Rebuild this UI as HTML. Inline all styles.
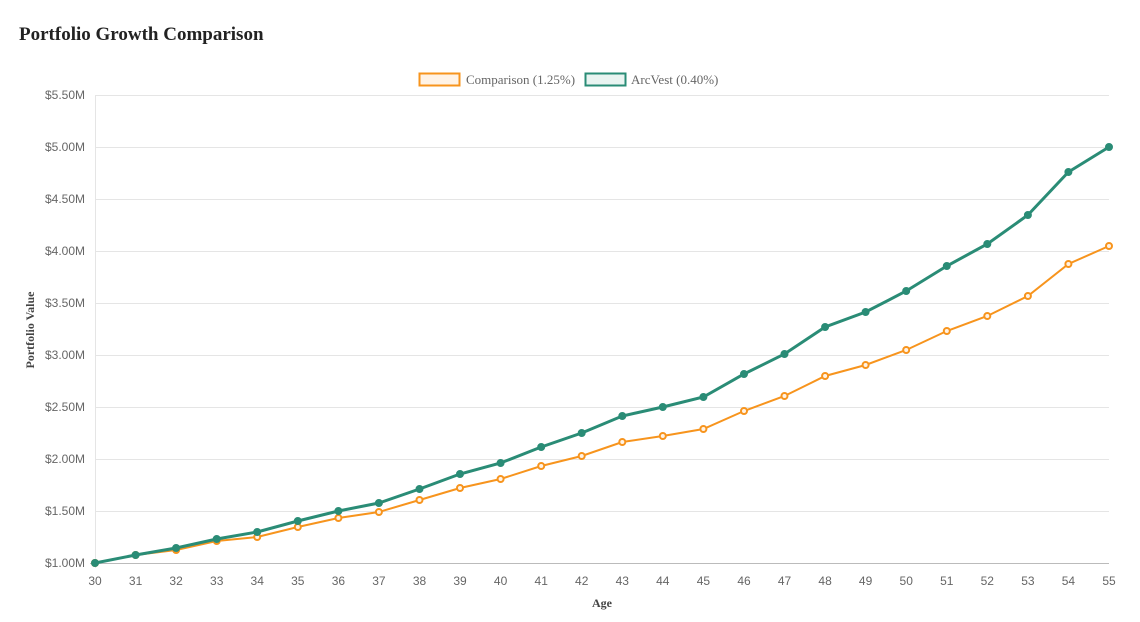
<!DOCTYPE html>
<html><head><meta charset="utf-8"><style>
body{margin:0;background:#fff;}
svg{display:block;}
.t{font-family:"Liberation Sans",sans-serif;font-size:12px;fill:#666;}
.s{font-family:"Liberation Serif",serif;}
</style></head><body>
<svg width="1140" height="622" viewBox="0 0 1140 622">
<text x="19" y="40" class="s" font-size="19" font-weight="bold" fill="#222">Portfolio Growth Comparison</text>
<rect x="419.5" y="73.5" width="40" height="12" fill="#fff3e6" stroke="#f7941d" stroke-width="2"/>
<text x="466" y="84" class="s" font-size="13" fill="#666">Comparison (1.25%)</text>
<rect x="585.5" y="73.5" width="40" height="12" fill="#e9f4f1" stroke="#2a8c76" stroke-width="2"/>
<text x="631" y="84" class="s" font-size="13" fill="#666">ArcVest (0.40%)</text>
<g stroke="#e5e5e5" stroke-width="1">
<line x1="95" y1="95.5" x2="1109" y2="95.5"/><line x1="95" y1="147.5" x2="1109" y2="147.5"/><line x1="95" y1="199.5" x2="1109" y2="199.5"/><line x1="95" y1="251.5" x2="1109" y2="251.5"/><line x1="95" y1="303.5" x2="1109" y2="303.5"/><line x1="95" y1="355.5" x2="1109" y2="355.5"/><line x1="95" y1="407.5" x2="1109" y2="407.5"/><line x1="95" y1="459.5" x2="1109" y2="459.5"/><line x1="95" y1="511.5" x2="1109" y2="511.5"/>
<line x1="95.5" y1="95" x2="95.5" y2="568"/>
</g>
<line x1="90" y1="563.5" x2="1109" y2="563.5" stroke="#bbb"/>
<g class="t" text-anchor="end">
<text x="85" y="99">$5.50M</text><text x="85" y="151">$5.00M</text><text x="85" y="203">$4.50M</text><text x="85" y="255">$4.00M</text><text x="85" y="307">$3.50M</text><text x="85" y="359">$3.00M</text><text x="85" y="411">$2.50M</text><text x="85" y="463">$2.00M</text><text x="85" y="515">$1.50M</text><text x="85" y="567">$1.00M</text>
</g>
<g class="t" text-anchor="middle">
<text x="95" y="585">30</text><text x="135.6" y="585">31</text><text x="176.1" y="585">32</text><text x="216.7" y="585">33</text><text x="257.2" y="585">34</text><text x="297.8" y="585">35</text><text x="338.4" y="585">36</text><text x="378.9" y="585">37</text><text x="419.5" y="585">38</text><text x="460" y="585">39</text><text x="500.6" y="585">40</text><text x="541.2" y="585">41</text><text x="581.7" y="585">42</text><text x="622.3" y="585">43</text><text x="662.8" y="585">44</text><text x="703.4" y="585">45</text><text x="744" y="585">46</text><text x="784.5" y="585">47</text><text x="825.1" y="585">48</text><text x="865.6" y="585">49</text><text x="906.2" y="585">50</text><text x="946.8" y="585">51</text><text x="987.3" y="585">52</text><text x="1027.9" y="585">53</text><text x="1068.4" y="585">54</text><text x="1109" y="585">55</text>
</g>
<text x="602" y="607" class="s" font-size="12" font-weight="bold" fill="#444" text-anchor="middle">Age</text>
<text transform="translate(34,330) rotate(-90)" class="s" font-size="12" font-weight="bold" fill="#444" text-anchor="middle">Portfolio Value</text>
<polyline fill="none" stroke="#f7941d" stroke-width="2" points="95,563 135.6,555 176.1,550 216.7,541 257.2,537 297.8,527 338.4,518 378.9,512 419.5,500 460,488 500.6,479 541.2,466 581.7,456 622.3,442 662.8,436 703.4,429 744,411 784.5,396 825.1,376 865.6,365 906.2,350 946.8,331 987.3,316 1027.9,296 1068.4,264 1109,246"/>
<g fill="#fff3e6" stroke="#f7941d" stroke-width="2">
<circle cx="95" cy="563" r="3"/><circle cx="135.6" cy="555" r="3"/><circle cx="176.1" cy="550" r="3"/><circle cx="216.7" cy="541" r="3"/><circle cx="257.2" cy="537" r="3"/><circle cx="297.8" cy="527" r="3"/><circle cx="338.4" cy="518" r="3"/><circle cx="378.9" cy="512" r="3"/><circle cx="419.5" cy="500" r="3"/><circle cx="460" cy="488" r="3"/><circle cx="500.6" cy="479" r="3"/><circle cx="541.2" cy="466" r="3"/><circle cx="581.7" cy="456" r="3"/><circle cx="622.3" cy="442" r="3"/><circle cx="662.8" cy="436" r="3"/><circle cx="703.4" cy="429" r="3"/><circle cx="744" cy="411" r="3"/><circle cx="784.5" cy="396" r="3"/><circle cx="825.1" cy="376" r="3"/><circle cx="865.6" cy="365" r="3"/><circle cx="906.2" cy="350" r="3"/><circle cx="946.8" cy="331" r="3"/><circle cx="987.3" cy="316" r="3"/><circle cx="1027.9" cy="296" r="3"/><circle cx="1068.4" cy="264" r="3"/><circle cx="1109" cy="246" r="3"/>
</g>
<polyline fill="none" stroke="#2a8c76" stroke-width="3" points="95,563 135.6,555 176.1,548 216.7,539 257.2,532 297.8,521 338.4,511 378.9,503 419.5,489 460,474 500.6,463 541.2,447 581.7,433 622.3,416 662.8,407 703.4,397 744,374 784.5,354 825.1,327 865.6,312 906.2,291 946.8,266 987.3,244 1027.9,215 1068.4,172 1109,147"/>
<g fill="#2a8c76" stroke="#2a8c76" stroke-width="1">
<circle cx="95" cy="563" r="3.5"/><circle cx="135.6" cy="555" r="3.5"/><circle cx="176.1" cy="548" r="3.5"/><circle cx="216.7" cy="539" r="3.5"/><circle cx="257.2" cy="532" r="3.5"/><circle cx="297.8" cy="521" r="3.5"/><circle cx="338.4" cy="511" r="3.5"/><circle cx="378.9" cy="503" r="3.5"/><circle cx="419.5" cy="489" r="3.5"/><circle cx="460" cy="474" r="3.5"/><circle cx="500.6" cy="463" r="3.5"/><circle cx="541.2" cy="447" r="3.5"/><circle cx="581.7" cy="433" r="3.5"/><circle cx="622.3" cy="416" r="3.5"/><circle cx="662.8" cy="407" r="3.5"/><circle cx="703.4" cy="397" r="3.5"/><circle cx="744" cy="374" r="3.5"/><circle cx="784.5" cy="354" r="3.5"/><circle cx="825.1" cy="327" r="3.5"/><circle cx="865.6" cy="312" r="3.5"/><circle cx="906.2" cy="291" r="3.5"/><circle cx="946.8" cy="266" r="3.5"/><circle cx="987.3" cy="244" r="3.5"/><circle cx="1027.9" cy="215" r="3.5"/><circle cx="1068.4" cy="172" r="3.5"/><circle cx="1109" cy="147" r="3.5"/>
</g>
</svg>
</body></html>
